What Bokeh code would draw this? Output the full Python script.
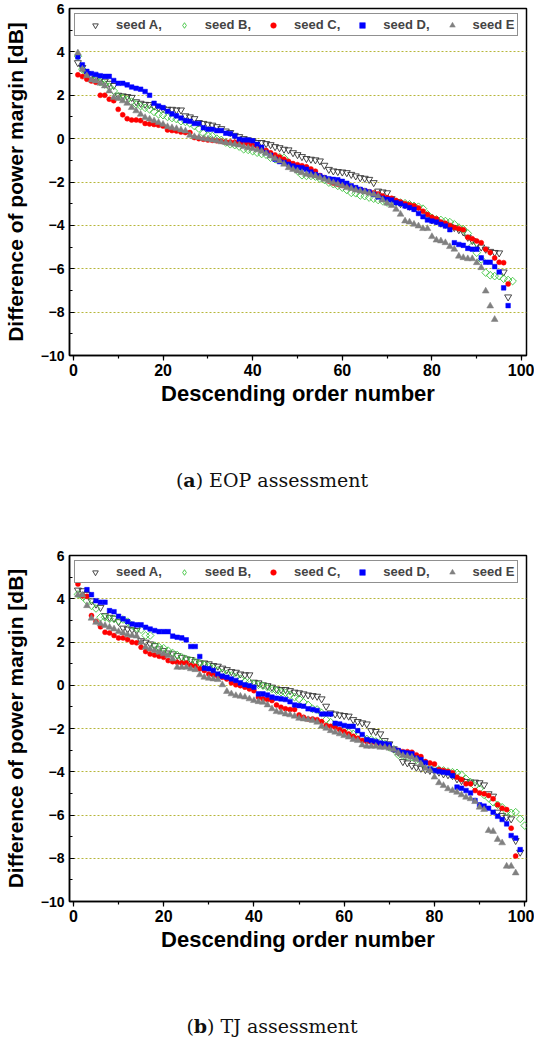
from bokeh.plotting import figure
from bokeh.models import SingleIntervalTicker, Range1d, Div, Legend
from bokeh.layouts import column
from bokeh.embed import file_html
from bokeh.resources import INLINE

# ---------------- data: panel (a) EOP assessment ----------------
a_seedA = [3.5, 3.28, 3.0, 2.9, 2.8, 2.75, 2.65, 2.55, 2.45, 2.0,
           1.97, 1.94, 1.9, 1.7, 1.63, 1.58, 1.57, 1.5, 1.43, 1.38,
           1.35, 1.35, 1.32, 1.32, 1.05, 1.0, 0.92, 0.74, 0.7, 0.66,
           0.62, 0.55, 0.46, 0.35, 0.28, 0.15, 0.09, 0.0, -0.06, -0.1,
           -0.18, -0.18, -0.23, -0.28, -0.37, -0.42, -0.49, -0.52, -0.65, -0.74,
           -0.83, -0.92, -0.95, -0.98, -1.03, -1.23, -1.42, -1.49, -1.52, -1.54,
           -1.57, -1.65, -1.72, -1.8, -1.83, -1.88, -2.03, -2.42, -2.46, -2.5,
           -2.77, -2.9, -3.0, -3.05, -3.12, -3.2, -3.35, -3.5, -3.65, -3.75,
           -3.8, -3.9, -3.95, -4.05, -4.1, -4.2, -4.3, -4.55, -4.7, -4.85,
           -5.0, -5.1, -5.2, -5.25, -5.27, -6.15, -7.3]
a_seedB = [3.8, 3.2, 3.0, 2.85, 2.75, 2.6, 2.5, 2.4, 2.2, 1.95,
           1.88, 1.78, 1.7, 1.58, 1.5, 1.42, 1.35, 1.23, 1.12, 1.08,
           1.0, 0.95, 0.9, 0.8, 0.77, 0.7, 0.58, 0.46, 0.25, 0.15,
           0.12, 0.0, -0.06, -0.18, -0.26, -0.3, -0.37, -0.49, -0.52, -0.58,
           -0.65, -0.71, -0.74, -0.88, -0.95, -0.85, -0.89, -1.1, -1.26, -1.49,
           -1.69, -1.72, -1.72, -1.75, -1.85, -1.9, -2.03, -2.1, -2.18, -2.26,
           -2.37, -2.5, -2.52, -2.62, -2.65, -2.72, -2.77, -2.83, -2.88, -2.95,
           -2.98, -2.92, -2.95, -2.98, -3.03, -3.1, -3.14, -3.23, -3.49, -3.65,
           -3.72, -3.75, -3.8, -3.85, -3.95, -4.1, -4.18, -4.37, -4.95, -5.26,
           -5.57, -6.18, -6.3, -6.34, -6.34, -6.46, -6.52, -6.57]
a_seedC = [2.94, 2.86, 2.74, 2.66, 2.6, 2.0, 2.0, 1.82, 1.75, 1.35,
           1.1, 0.92, 0.86, 0.86, 0.83, 0.7, 0.68, 0.65, 0.62, 0.58,
           0.4, 0.37, 0.35, 0.3, 0.28, 0.28, 0.05, 0.0, -0.03, -0.06,
           -0.08, -0.1, -0.12, -0.15, -0.15, -0.17, -0.18, -0.2, -0.25, -0.3,
           -0.35, -0.45, -0.55, -0.65, -0.75, -0.85, -0.95, -1.05, -1.15, -1.2,
           -1.25, -1.3, -1.4, -1.5, -1.7, -1.8, -1.95, -2.05, -2.1, -2.15,
           -2.2, -2.25, -2.3, -2.35, -2.4, -2.45, -2.5, -2.55, -2.65, -2.72,
           -2.75, -2.85, -2.92, -3.0, -3.05, -3.1, -3.2, -3.35, -3.5, -3.62,
           -3.7, -3.85, -3.9, -4.0, -4.1, -4.15, -4.2, -4.55, -4.62, -4.72,
           -4.8, -5.1, -5.25, -5.5, -5.7, -5.72, -6.7]
a_seedD = [3.77, 3.4, 3.1, 3.0, 2.96, 2.9, 2.87, 2.87, 2.68, 2.55,
           2.55, 2.48, 2.38, 2.32, 2.28, 2.17, 2.0, 1.63, 1.5, 1.43,
           1.26, 1.14, 1.05, 0.95, 0.83, 0.8, 0.7, 0.7, 0.5, 0.43,
           0.43, 0.37, 0.37, 0.25, 0.23, 0.12, -0.03, -0.06, -0.06, -0.1,
           -0.26, -0.4, -0.65, -0.77, -0.95, -1.06, -1.1, -1.18, -1.26, -1.32,
           -1.35, -1.41, -1.54, -1.65, -1.72, -1.8, -1.85, -1.88, -1.9, -1.97,
           -2.06, -2.18, -2.26, -2.34, -2.4, -2.46, -2.57, -2.69, -2.75, -2.8,
           -2.83, -2.95, -3.0, -3.1, -3.18, -3.26, -3.45, -3.6, -3.75, -3.8,
           -3.85, -3.95, -4.03, -4.2, -4.8, -4.88, -4.92, -5.06, -5.1, -5.1,
           -5.5, -5.7, -5.7, -5.9, -6.15, -6.88, -7.7]
a_seedE = [3.95, 3.2, 2.9, 2.7, 2.66, 2.55, 2.43, 2.2, 1.9, 1.85,
           1.74, 1.63, 1.43, 1.28, 1.12, 0.97, 0.9, 0.82, 0.74, 0.66,
           0.55, 0.5, 0.46, 0.4, 0.35, 0.15, 0.09, 0.05, 0.0, -0.03,
           -0.06, -0.1, -0.15, -0.18, -0.22, -0.26, -0.3, -0.37, -0.42, -0.46,
           -0.52, -0.58, -0.68, -0.8, -0.92, -1.03, -1.18, -1.34, -1.42, -1.49,
           -1.57, -1.65, -1.69, -1.72, -1.8, -1.88, -1.95, -2.03, -2.1, -2.18,
           -2.26, -2.3, -2.37, -2.42, -2.46, -2.52, -2.57, -2.65, -2.83, -2.98,
           -3.08, -3.26, -3.49, -3.8, -3.85, -3.95, -4.03, -4.15, -4.15, -4.52,
           -4.68, -4.72, -4.8, -4.98, -5.1, -5.42, -5.49, -5.54, -5.54, -5.72,
           -5.95, -7.03, -7.72, -8.34]

# ---------------- data: panel (b) TJ assessment ----------------
b_seedA = [4.4, 4.37, 4.2, 3.9, 3.75, 3.6, 3.22, 3.14, 3.1, 2.94,
           2.64, 2.6, 2.57, 2.53, 2.06, 1.99, 1.91, 1.83, 1.68, 1.6,
           1.49, 1.45, 1.37, 1.29, 1.22, 1.19, 1.09, 1.03, 1.03, 0.99,
           0.91, 0.88, 0.79, 0.72, 0.63, 0.6, 0.52, 0.48, 0.48, 0.14,
           0.11, 0.02, -0.02, -0.09, -0.17, -0.2, -0.2, -0.25, -0.32, -0.35,
           -0.4, -0.45, -0.48, -0.51, -0.63, -0.97, -1.28, -1.33, -1.37, -1.4,
           -1.43, -1.59, -1.68, -1.74, -1.79, -2.1, -2.14, -2.25, -2.56, -2.71,
           -2.94, -3.1, -3.53, -3.59, -3.71, -3.79, -3.84, -3.9, -3.94, -3.94,
           -4.02, -4.1, -4.14, -4.18, -4.33, -4.41, -4.45, -4.48, -4.48, -4.51,
           -4.61, -5.02, -5.13, -5.87, -6.02, -6.1, -6.18, -7.18, -7.72]
b_seedB = [4.2, 4.1, 3.9, 3.67, 3.55, 3.14, 3.14, 3.07, 3.07, 2.99,
           3.04, 2.94, 2.76, 2.64, 2.57, 2.3, 2.3, 1.83, 1.76, 1.71,
           1.6, 1.49, 1.4, 1.29, 1.22, 1.14, 1.09, 1.03, 0.94, 0.88,
           0.79, 0.68, 0.57, 0.52, 0.45, 0.37, 0.29, 0.17, 0.14, 0.06,
           0.02, -0.02, -0.09, -0.17, -0.25, -0.32, -0.35, -0.45, -0.55, -0.63,
           -0.79, -0.91, -1.09, -1.12, -1.28, -1.59, -1.71, -1.83, -1.9, -2.05,
           -2.17, -2.25, -2.3, -2.4, -2.48, -2.51, -2.6, -2.63, -2.71, -2.87,
           -2.97, -3.22, -3.25, -3.28, -3.33, -3.44, -3.48, -3.71, -3.84, -3.87,
           -3.9, -3.94, -3.99, -4.02, -4.05, -4.14, -4.33, -4.48, -4.67, -4.79,
           -5.07, -5.22, -5.41, -5.53, -5.64, -5.84, -5.9, -5.87, -6.18, -6.49]
b_seedC = [4.68, 4.14, 4.11, 3.22, 2.95, 2.7, 2.45, 2.42, 2.3, 2.19,
           2.19, 2.11, 1.99, 1.96, 1.76, 1.56, 1.45, 1.4, 1.34, 1.29,
           1.14, 1.09, 1.06, 1.03, 1.03, 0.91, 0.88, 0.76, 0.68, 0.52,
           0.48, 0.42, 0.37, 0.29, 0.11, 0.02, -0.02, -0.09, -0.17, -0.25,
           -0.55, -0.63, -0.66, -0.71, -0.91, -1.02, -1.09, -1.12, -1.12, -1.37,
           -1.48, -1.56, -1.56, -1.59, -1.68, -1.86, -1.9, -1.94, -2.05, -2.14,
           -2.25, -2.36, -2.45, -2.56, -2.6, -2.63, -2.67, -2.71, -2.79, -2.87,
           -2.97, -3.02, -3.07, -3.07, -3.1, -3.22, -3.3, -3.53, -3.59, -3.64,
           -3.9, -3.94, -3.99, -4.05, -4.25, -4.36, -4.56, -4.56, -4.87, -4.98,
           -5.02, -5.1, -5.25, -5.53, -5.69, -5.75, -6.61, -7.9]
b_seedD_first = 3  # seed D order numbers start at 3 in panel (b)
b_seedD = [4.42, 4.19, 3.91, 3.84, 3.84, 3.45, 3.4, 3.19, 3.07, 2.94,
           2.83, 2.79, 2.79, 2.68, 2.6, 2.53, 2.48, 2.48, 2.48, 2.27,
           2.22, 2.19, 2.1, 1.79, 1.79, 1.33, 0.79, 0.76, 0.68, 0.52,
           0.42, 0.37, 0.29, 0.22, 0.11, 0.02, -0.02, -0.09, -0.4, -0.4,
           -0.45, -0.55, -0.6, -0.63, -0.66, -0.76, -0.91, -0.94, -0.97, -1.09,
           -1.12, -1.17, -1.33, -1.33, -1.33, -1.76, -1.79, -1.86, -1.9, -1.9,
           -2.1, -2.28, -2.51, -2.56, -2.6, -2.67, -2.71, -2.74, -2.97, -3.02,
           -3.1, -3.13, -3.17, -3.37, -3.44, -3.59, -3.87, -3.94, -3.99, -4.02,
           -4.05, -4.18, -4.71, -4.76, -4.87, -4.98, -5.33, -5.53, -5.59, -5.69,
           -5.87, -6.06, -6.21, -6.41, -6.95, -7.07, -7.6]
b_seedE = [4.17, 4.17, 3.68, 3.1, 2.91, 2.84, 2.76, 2.68, 2.6, 2.48,
           2.42, 2.33, 2.3, 2.27, 1.99, 1.76, 1.68, 1.6, 1.53, 1.45,
           1.37, 1.22, 0.83, 0.83, 0.83, 0.76, 0.72, 0.48, 0.37, 0.32,
           0.29, 0.26, 0.02, -0.29, -0.4, -0.48, -0.51, -0.55, -0.63, -0.71,
           -0.76, -0.79, -0.91, -1.09, -1.22, -1.25, -1.33, -1.37, -1.43, -1.53,
           -1.56, -1.59, -1.63, -1.71, -1.9, -1.99, -2.1, -2.17, -2.25, -2.33,
           -2.4, -2.51, -2.56, -2.76, -2.82, -2.82, -2.82, -2.87, -2.87, -2.91,
           -2.97, -3.13, -3.25, -3.28, -3.33, -3.44, -3.64, -3.84, -3.94, -4.25,
           -4.51, -4.64, -4.79, -4.87, -4.95, -5.07, -5.18, -5.25, -5.38, -5.64,
           -5.75, -6.72, -6.76, -7.13, -7.29, -8.37, -8.37, -8.68]

legend_labels = ["seed A,", "seed B,", "seed C,", "seed D,", "seed E"]
y_ticks_interval = 2
x_ticks_interval = 20
x_label = "Descending order number"
y_label = "Difference of power margin [dB]"
caption_a = ("a", "EOP assessment")
caption_b = ("b", "TJ assessment")

SANS = "Liberation Sans"

STYLES = [
    dict(marker="inverted_triangle", size=7, fill_color="white", fill_alpha=0.0,
         line_color="#333333", line_width=0.9),
    dict(marker="square", angle=0.7853982, size=5.4, fill_color="white", fill_alpha=0.0,
         line_color="#3fc43f", line_width=0.9),
    dict(marker="circle", size=5, fill_color="#ff0000", line_color="#ff0000", line_width=0.5),
    dict(marker="square", size=4.6, fill_color="#0000ff", line_color="#0000ff", line_width=0.5),
    dict(marker="triangle", size=6.8, fill_color="#808080", line_color="#808080", line_width=0.5),
]
# legend swatch for the rotated-square (diamond) series (a single off-plot NaN point)
LEGEND_B = dict(marker="diamond", size=9.5, fill_color="white", fill_alpha=0.0,
                line_color="#3fc43f", line_width=0.9)


def make_panel(series, starts, xmax, height, border_top, border_right):
    p = figure(width=534, height=height, output_backend="svg", toolbar_location=None,
               x_range=Range1d(-0.87, xmax), y_range=Range1d(-10, 6),
               min_border_left=62, min_border_right=border_right,
               min_border_top=border_top, min_border_bottom=58)
    p.background_fill_color = "white"
    p.border_fill_color = "white"
    p.outline_line_color = "black"
    p.outline_line_width = 1.5
    p.outline_line_alpha = 1.0

    items = []
    for i, (vals, start, style, lab) in enumerate(zip(series, starts, STYLES, legend_labels)):
        xs = list(range(start, start + len(vals)))
        r = p.scatter(xs, vals, **style)
        if i == 1:
            r_leg = p.scatter(x=[float("nan")], y=[float("nan")], **LEGEND_B)
            items.append((lab, [r_leg]))
        else:
            items.append((lab, [r]))

    leg = Legend(items=items, orientation="horizontal", location="top_left")
    leg.margin = 5
    leg.padding = 3
    leg.spacing = 5
    leg.glyph_width = 34
    leg.glyph_height = 14
    leg.label_height = 14
    leg.label_standoff = 4
    leg.label_text_font = SANS
    leg.label_text_font_style = "bold"
    leg.label_text_font_size = "13px"
    leg.label_text_baseline = "middle"
    leg.border_line_color = "#222222"
    leg.border_line_width = 1.6
    leg.background_fill_color = "white"
    leg.background_fill_alpha = 1.0
    p.add_layout(leg, "center")

    p.xaxis.ticker = SingleIntervalTicker(interval=x_ticks_interval, num_minor_ticks=2)
    p.yaxis.ticker = SingleIntervalTicker(interval=y_ticks_interval, num_minor_ticks=2)

    p.xgrid.grid_line_color = None
    p.ygrid.grid_line_color = "#b6b63a"
    p.ygrid.grid_line_dash = "2 2"
    p.ygrid.grid_line_width = 1

    for ax in (p.xaxis, p.yaxis):
        ax.axis_line_color = "black"
        ax.axis_line_width = 1.5
        ax.major_tick_line_color = "black"
        ax.minor_tick_line_color = "black"
        ax.major_tick_line_width = 1.2
        ax.minor_tick_line_width = 1.2
        ax.major_label_text_font = SANS
        ax.major_label_text_font_style = "bold"
        ax.major_label_text_color = "black"
        ax.axis_label_text_font = SANS
        ax.axis_label_text_font_style = "bold"
        ax.axis_label_text_color = "black"

    p.xaxis.axis_label = x_label
    p.xaxis.axis_label_text_font_size = "22px"
    p.xaxis.major_label_text_font_size = "16px"
    p.xaxis.major_tick_out = 5
    p.xaxis.major_tick_in = 0
    p.xaxis.minor_tick_out = 3
    p.xaxis.minor_tick_in = 0
    p.xaxis.major_label_standoff = 3
    p.xaxis.axis_label_standoff = 2

    p.yaxis.axis_label = y_label
    p.yaxis.axis_label_text_font_size = "21px"
    p.yaxis.major_label_text_font_size = "14px"
    p.yaxis.major_tick_out = 0
    p.yaxis.major_tick_in = 5
    p.yaxis.minor_tick_out = 0
    p.yaxis.minor_tick_in = 3
    p.yaxis.major_label_standoff = 5
    p.yaxis.axis_label_standoff = 11
    return p


def caption(parts, height, top):
    html = ('<div style="margin-top:%dpx;width:534px;text-align:center;'
            'font-family:\'DejaVu Serif\';font-size:19px;line-height:19px;color:#111;">'
            '(<b>%s</b>) %s</div>') % (top, parts[0], parts[1])
    return Div(text=html, width=534, height=height)


pa = make_panel([a_seedA, a_seedB, a_seedC, a_seedD, a_seedE], [1, 1, 1, 1, 1],
                101.1, 413, 8, 5)
pb = make_panel([b_seedA, b_seedB, b_seedC, b_seedD, b_seedE], [1, 1, 1, b_seedD_first, 1],
                100.4, 413, 9, 8)

layout = column(pa, caption(caption_a, 123, 53), pb, caption(caption_b, 74, 53), spacing=0)

open("out.html", "w").write(file_html(layout, INLINE))
